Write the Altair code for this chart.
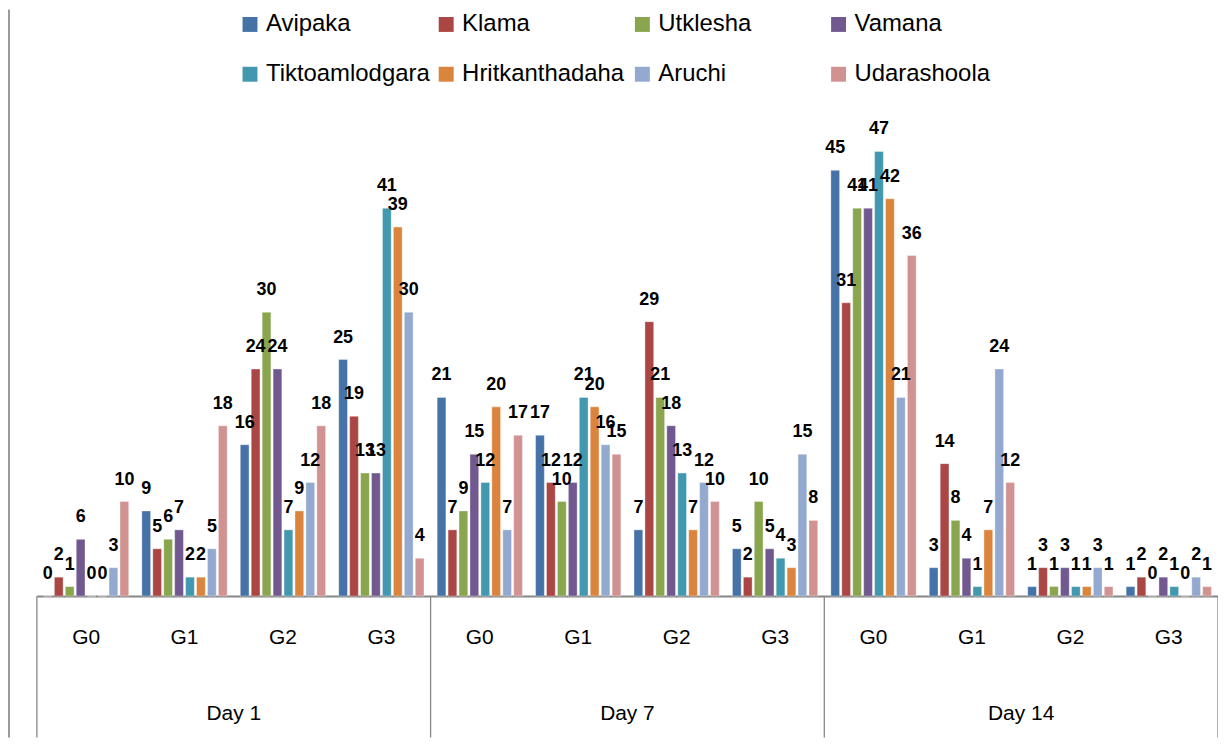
import altair as alt
import pandas as pd

series = ["Avipaka", "Klama", "Utklesha", "Vamana",
          "Tiktoamlodgara", "Hritkanthadaha", "Aruchi", "Udarashoola"]
colors = ["#4572A7", "#AA4643", "#89A54E", "#71588F",
          "#4198AF", "#DB843D", "#93A9CF", "#D19392"]
days = ["Day 1", "Day 7", "Day 14"]
grades = ["G0", "G1", "G2", "G3"]

# values per (day, grade): Day1 G0..G3, Day7 G0..G3, Day14 G0..G3
avipaka = [0, 9, 16, 25, 21, 17, 7, 5, 45, 3, 1, 1]
klama = [2, 5, 24, 19, 7, 12, 29, 2, 31, 14, 3, 2]
utklesha = [1, 6, 30, 13, 9, 10, 21, 10, 41, 8, 1, 0]
vamana = [6, 7, 24, 13, 15, 12, 18, 5, 41, 4, 3, 2]
tiktoamlodgara = [0, 2, 7, 41, 12, 21, 13, 4, 47, 1, 1, 1]
hritkanthadaha = [0, 2, 9, 39, 20, 20, 7, 3, 42, 7, 1, 0]
aruchi = [3, 5, 12, 30, 7, 16, 12, 15, 21, 24, 3, 2]
udarashoola = [10, 18, 18, 4, 17, 15, 10, 8, 36, 12, 1, 1]

values = [avipaka, klama, utklesha, vamana,
          tiktoamlodgara, hritkanthadaha, aruchi, udarashoola]

cats = [f"{d}|{g}" for d in days for g in grades]

rows = []
for s, vals in zip(series, values):
    for c, v in zip(cats, vals):
        rows.append({"cat": c, "series": s, "value": v})
df = pd.DataFrame(rows)

df_g = pd.DataFrame({"cat": cats, "grade": [c.split("|")[1] for c in cats]})
df_d = pd.DataFrame({"cat": [f"{d}|G1" for d in days], "day": days})
df_sep = pd.DataFrame({"cat": [f"{d}|G0" for d in days]})
df_end = pd.DataFrame({"cat": [cats[-1]]})
df_one = pd.DataFrame({"k": [0]})

W = 1186
H = 475
GRAY = "#868686"
FONT = "Liberation Sans"

xscale = alt.Scale(paddingInner=0, paddingOuter=0)
xenc = alt.X("cat:N", sort=cats, scale=xscale,
             axis=alt.Axis(labels=False, ticks=False, title=None,
                           domainColor=GRAY, domainWidth=2, grid=False))
xoff = alt.XOffset("series:N", sort=series,
                   scale=alt.Scale(paddingInner=0.2, paddingOuter=0.6))
yenc = alt.Y("value:Q", scale=alt.Scale(domain=[0, 50], nice=False), axis=None)

bars = alt.Chart(df).mark_bar(stroke="white", strokeWidth=0.6, strokeOpacity=0.6).encode(
    x=xenc,
    xOffset=xoff,
    y=yenc,
    color=alt.Color("series:N", sort=series,
                    scale=alt.Scale(domain=series, range=colors),
                    legend=alt.Legend(orient="none", legendX=202, legendY=-111,
                                      direction="horizontal", columns=4, title=None,
                                      symbolType="square", symbolSize=225,
                                      symbolStrokeWidth=0, labelFontSize=24,
                                      labelFont=FONT, labelColor="#000000",
                                      labelOffset=4, columnPadding=4,
                                      rowPadding=26, labelLimit=400,
                                      gridAlign="all")),
)

labels = alt.Chart(df).mark_text(dy=-17, baseline="alphabetic", fontWeight="bold",
                                 fontSize=18, font=FONT, color="#000000").encode(
    x=alt.X("cat:N", sort=cats),
    xOffset=alt.XOffset("series:N", sort=series),
    y=alt.Y("value:Q"),
    text=alt.Text("value:Q"),
)

glabels = alt.Chart(df_g).mark_text(fontSize=21, font=FONT, baseline="middle",
                                    color="#000000").encode(
    x=alt.X("cat:N", sort=cats),
    y=alt.value(H + 42),
    text="grade:N",
)

dlabels = alt.Chart(df_d).mark_text(fontSize=21, font=FONT, baseline="middle",
                                    color="#000000").encode(
    x=alt.X("cat:N", sort=cats, bandPosition=1),
    y=alt.value(H + 118),
    text="day:N",
)

seps = alt.Chart(df_sep).mark_rule(color=GRAY, strokeWidth=1.3).encode(
    x=alt.X("cat:N", sort=cats, bandPosition=0),
    y=alt.value(H),
    y2=alt.value(H + 142),
)

endsep = alt.Chart(df_end).mark_rule(color=GRAY, strokeWidth=1.3).encode(
    x=alt.X("cat:N", sort=cats, bandPosition=1),
    y=alt.value(H),
    y2=alt.value(H + 142),
)

border = alt.Chart(df_one).mark_rule(color="#9a9a9a", strokeWidth=2).encode(
    x=alt.value(-28),
    y=alt.value(-114),
    y2=alt.value(H + 142),
)

chart = alt.layer(bars, labels, seps, endsep, glabels, dlabels, border).properties(
    width=W,
    height=H,
    autosize=alt.AutoSizeParams(type="none"),
    padding={"left": 29, "top": 114, "right": 0, "bottom": 142},
).configure(font=FONT).configure_view(stroke=None, strokeWidth=0)

chart.save("out.html", embed_options={"renderer": "svg", "actions": False})
